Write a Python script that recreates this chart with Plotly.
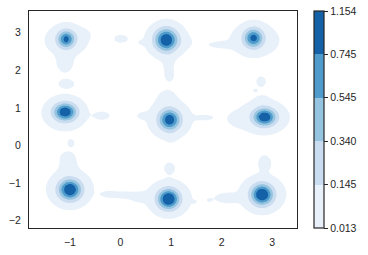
import numpy as np
import plotly.graph_objects as go

# Contour levels (density) and colorbar labels
levels = [0.013, 0.145, 0.340, 0.545, 0.745, 1.154]
level_labels = ["0.013", "0.145", "0.340", "0.545", "0.745", "1.154"]
band_colors = ["#e8f1fa", "#cadcef", "#94c4df", "#4f9bcb", "#1461a8"]

x_ticks = [-1, 0, 1, 2, 3]
y_ticks = [-2, -1, 0, 1, 2, 3]

# Dense cluster cores
core_x = [-1.075, 0.905, 2.63, -1.095, 0.97, 2.85, -1.00, 0.95, 2.80]
core_y = [2.83, 2.81, 2.86, 0.89, 0.68, 0.755, -1.18, -1.43, -1.31]
core_amp = [0.80, 1.00, 0.82, 0.98, 0.92, 0.98, 1.02, 1.09, 1.04]
core_sx = [0.109, 0.139, 0.119, 0.139, 0.129, 0.139, 0.139, 0.130, 0.135]
core_sy = [0.146, 0.186, 0.159, 0.146, 0.172, 0.146, 0.172, 0.165, 0.175]

# Low-density halos, tails and stray blobs
blob_x = [-1.07, -1.10, -1.07, 0.92, 1.25, 0.95, 0.97, 2.65, 2.00, 0.01, 0.41,
          -1.10, -0.98, -0.36, 0.97, 0.92, 1.00, 0.44, 1.68,
          2.80, 2.35, 2.78, 2.66, 2.80,
          -1.00, -1.03, -1.05, 0.95, 0.97, -0.25, 0.05, 0.38, 1.46, 1.75,
          2.80, 2.10, 2.85, -0.80]
blob_y = [2.80, 2.20, 1.64, 2.80, 2.75, 2.25, 1.85, 2.80, 2.68, 2.84, 2.74,
          0.85, 0.06, 0.79, 0.70, 1.20, 0.25, 0.79, 0.74,
          0.75, 0.70, 1.70, 1.46, 1.15,
          -1.15, -0.55, -0.30, -1.40, -0.60, -1.30, -1.32, -1.38, -1.50, -1.46,
          -1.30, -1.40, -0.47, 2.95]
blob_amp = [0.06, 0.03, 0.025, 0.06, 0.025, 0.03, 0.02, 0.06, 0.025, 0.022, 0.016,
            0.06, 0.02, 0.022, 0.06, 0.03, 0.02, 0.02, 0.02,
            0.06, 0.03, 0.025, 0.016, 0.03,
            0.06, 0.03, 0.02, 0.06, 0.022, 0.022, 0.024, 0.025, 0.015, 0.016,
            0.06, 0.03, 0.025, 0.025]
blob_sx = [0.245, 0.12, 0.13, 0.22, 0.10, 0.08, 0.07, 0.28, 0.22, 0.13, 0.06,
           0.24, 0.07, 0.14, 0.25, 0.13, 0.07, 0.10, 0.16,
           0.30, 0.15, 0.08, 0.05, 0.10,
           0.25, 0.12, 0.10, 0.25, 0.10, 0.12, 0.16, 0.14, 0.04, 0.05,
           0.26, 0.18, 0.11, 0.12]
blob_sy = [0.235, 0.20, 0.10, 0.22, 0.10, 0.25, 0.12, 0.25, 0.07, 0.10, 0.06,
           0.26, 0.10, 0.10, 0.28, 0.20, 0.12, 0.07, 0.07,
           0.25, 0.12, 0.12, 0.05, 0.12,
           0.27, 0.20, 0.10, 0.26, 0.14, 0.07, 0.08, 0.10, 0.04, 0.05,
           0.26, 0.10, 0.18, 0.10]

x_range = [-1.81, 3.49]
y_range = [-2.20, 3.58]

gx = np.linspace(x_range[0], x_range[1], 120)
gy = np.linspace(y_range[0], y_range[1], 120)
GX, GY = np.meshgrid(gx, gy)

cx = np.array(core_x + blob_x)
cy = np.array(core_y + blob_y)
ca = np.array(core_amp + blob_amp)
csx = np.array(core_sx + blob_sx)
csy = np.array(core_sy + blob_sy)

Z = np.zeros_like(GX)
for a, b, amp, sx, sy in zip(cx, cy, ca, csx, csy):
    Z += amp * np.exp(-0.5 * (((GX - a) / sx) ** 2 + ((GY - b) / sy) ** 2))

idx = np.arange(len(levels))
ZT = np.where(Z < levels[0], (Z - levels[0]) / (levels[1] - levels[0]),
              np.interp(Z, levels, idx))

fill_scale = [[0, "#ffffff"]] + [[(i + 1) / 6, c] for i, c in enumerate(band_colors)] + [[1, band_colors[-1]]]

cb_scale = []
for i, c in enumerate(band_colors):
    cb_scale.append([i / 5, c])
    cb_scale.append([(i + 1) / 5, c])

cb_tickvals = [0, 1, 2, 3, 4, 5]

ink = "#262626"
fig = go.Figure()
fig.add_trace(go.Contour(
    x=gx, y=gy, z=ZT,
    contours=dict(start=0, end=5, size=1, coloring="fill", showlines=False),
    line=dict(width=0),
    colorscale=fill_scale, showscale=False, hoverinfo="skip",
))
fig.add_trace(go.Scatter(
    x=[None], y=[None], mode="markers", hoverinfo="skip",
    marker=dict(color=[0], cmin=0, cmax=5, colorscale=cb_scale, showscale=True,
                colorbar=dict(
                    x=1.0607, xanchor="left", xpad=0, y=0.5, yanchor="middle", ypad=0,
                    len=1, lenmode="fraction", thickness=10,
                    outlinewidth=1.2, outlinecolor=ink,
                    tickvals=cb_tickvals, ticktext=level_labels,
                    ticklabeloverflow="allow",
                    ticks="outside", ticklen=4, tickcolor=ink, tickwidth=1,
                    tickfont=dict(size=10.5, color=ink),
                )),
))

fig.update_layout(
    width=368, height=255,
    margin=dict(l=29, r=70, t=11, b=27),
    plot_bgcolor="white", paper_bgcolor="white",
    showlegend=False,
    font=dict(family="Liberation Sans, Arial, sans-serif", size=10.5, color=ink),
)
fig.update_xaxes(range=x_range, tickvals=x_ticks, showgrid=False, zeroline=False,
                 automargin=False,
                 showline=True, mirror=True, linecolor=ink, linewidth=1.2,
                 ticks="outside", ticklen=4, tickcolor="rgba(0,0,0,0)")
fig.update_yaxes(range=y_range, tickvals=y_ticks, showgrid=False, zeroline=False,
                 automargin=False,
                 showline=True, mirror=True, linecolor=ink, linewidth=1.2,
                 ticks="outside", ticklen=5, tickcolor="rgba(0,0,0,0)")

# remove the page's default 8px body margin so the figure fills the window
fig.write_html("out.html", config={"displayModeBar": False},
               post_script="document.body.style.margin='0px';")
